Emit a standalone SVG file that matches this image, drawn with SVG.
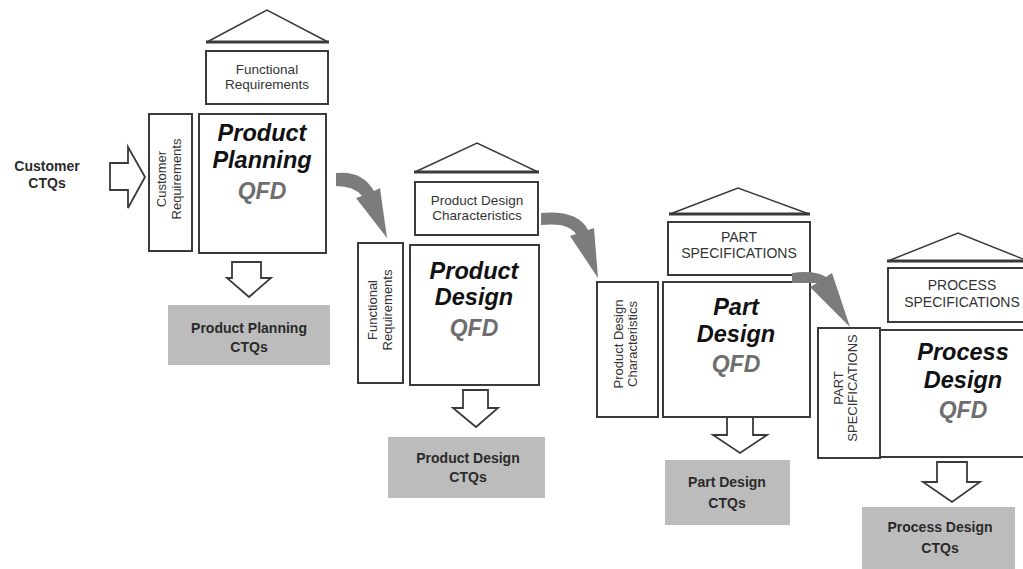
<svg xmlns="http://www.w3.org/2000/svg" width="1023" height="569" viewBox="0 0 1023 569">
<style>
.box{fill:#fff;stroke:#3a3a3a;stroke-width:2}
.roof{fill:#fff;stroke:#3a3a3a;stroke-width:1.5}
.base{stroke:#3a3a3a;stroke-width:3}
.ctq{fill:#bcbcbc;stroke:none}
.hollow{fill:#fff;stroke:#3a3a3a;stroke-width:1.8;stroke-linejoin:miter}
.curve{fill:#7c7c7c;stroke:none}
.big{font-family:"Liberation Sans",Arial,sans-serif;font-weight:bold;font-style:italic;font-size:23.5px;fill:#111;text-anchor:middle}
.qfd{font-family:"Liberation Sans",Arial,sans-serif;font-weight:bold;font-style:italic;font-size:23px;fill:#6e6e6e;text-anchor:middle}
.lbl{font-family:"Liberation Sans",Arial,sans-serif;font-size:13.5px;fill:#333;text-anchor:middle}
.cap{font-family:"Liberation Sans",Arial,sans-serif;font-size:14px;fill:#333;text-anchor:middle}
.side{font-family:"Liberation Sans",Arial,sans-serif;font-size:13px;fill:#333;text-anchor:middle}
.bold{font-family:"Liberation Sans",Arial,sans-serif;font-weight:bold;font-size:14px;fill:#2a2a2a;text-anchor:middle}
</style>
<rect width="1023" height="569" fill="#fff"/>

<g id="customer-ctqs">
<text class="bold" x="47" y="171">Customer</text>
<text class="bold" x="47" y="188">CTQs</text>
</g>

<g id="product-planning">
<polygon class="roof" points="207,42 267,10 328,42"/>
<line class="base" x1="206" y1="42" x2="329" y2="42"/>
<rect class="box" x="206" y="51" width="122" height="53"/>
<text class="lbl" x="267" y="74">Functional</text>
<text class="lbl" x="267" y="89">Requirements</text>
<rect class="box" x="149" y="114" width="43" height="137"/>
<g transform="translate(0,179) rotate(-90)">
<text class="side" x="0" y="166">Customer</text>
<text class="side" x="0" y="181">Requirements</text>
</g>
<rect class="box" x="199" y="114" width="127" height="139"/>
<text class="big" x="262" y="141">Product</text>
<text class="big" x="262" y="168">Planning</text>
<text class="qfd" x="262" y="199">QFD</text>
</g>

<g id="product-planning-ctqs">
<rect class="ctq" x="168" y="305" width="162" height="60"/>
<text class="bold" x="249" y="333">Product Planning</text>
<text class="bold" x="249" y="352">CTQs</text>
</g>

<g id="product-design">
<polygon class="roof" points="415,172 477,143 538,172"/>
<line class="base" x1="414" y1="172" x2="539" y2="172"/>
<rect class="box" x="415" y="182" width="123" height="53"/>
<text class="lbl" x="477" y="205">Product Design</text>
<text class="lbl" x="477" y="220">Characteristics</text>
<rect class="box" x="358" y="243" width="45" height="140"/>
<g transform="translate(0,310) rotate(-90)">
<text class="side" x="0" y="377">Functional</text>
<text class="side" x="0" y="392">Requirements</text>
</g>
<rect class="box" x="410" y="245" width="129" height="140"/>
<text class="big" x="474" y="279">Product</text>
<text class="big" x="474" y="305">Design</text>
<text class="qfd" x="474" y="336">QFD</text>
</g>

<g id="product-design-ctqs">
<rect class="ctq" x="388" y="437" width="157" height="61"/>
<text class="bold" x="468" y="463">Product Design</text>
<text class="bold" x="468" y="482">CTQs</text>
</g>

<g id="part-design">
<polygon class="roof" points="670,214 738,188 809,214"/>
<line class="base" x1="669" y1="214" x2="810" y2="214"/>
<rect class="box" x="668" y="222" width="142" height="53"/>
<text class="cap" x="739" y="242">PART</text>
<text class="cap" x="739" y="258">SPECIFICATIONS</text>
<rect class="box" x="597" y="282" width="61" height="135"/>
<g transform="translate(0,344) rotate(-90)">
<text class="side" x="0" y="623">Product Design</text>
<text class="side" x="0" y="637">Characteristics</text>
</g>
<rect class="box" x="663" y="282" width="147" height="135"/>
<text class="big" x="736" y="315">Part</text>
<text class="big" x="736" y="342">Design</text>
<text class="qfd" x="736" y="372">QFD</text>
</g>

<g id="part-design-ctqs">
<rect class="ctq" x="665" y="460" width="125" height="65"/>
<text class="bold" x="727" y="487">Part Design</text>
<text class="bold" x="727" y="508">CTQs</text>
</g>

<g id="process-design">
<polygon class="roof" points="888,261 958,233 1028,261"/>
<line class="base" x1="887" y1="261" x2="1030" y2="261"/>
<rect class="box" x="888" y="268" width="145" height="54"/>
<text class="cap" x="962" y="290">PROCESS</text>
<text class="cap" x="962" y="307">SPECIFICATIONS</text>
<rect class="box" x="818" y="328" width="62" height="130"/>
<g transform="translate(0,388) rotate(-90)">
<text class="side" x="0" y="843">PART</text>
<text class="side" x="0" y="857">SPECIFICATIONS</text>
</g>
<rect class="box" x="880" y="330" width="160" height="127"/>
<text class="big" x="963" y="360">Process</text>
<text class="big" x="963" y="388">Design</text>
<text class="qfd" x="963" y="418">QFD</text>
</g>

<g id="process-design-ctqs">
<rect class="ctq" x="862" y="507" width="153" height="62"/>
<text class="bold" x="940" y="532">Process Design</text>
<text class="bold" x="940" y="553">CTQs</text>
</g>

<g id="connectors">
<polygon class="hollow" points="110,163 128,163 128,147 145,177 128,208 128,190 110,190"/>
<polygon class="hollow" points="232,262 261,262 261,278 271,278 249,297 227,278 232,278"/>
<polygon class="hollow" points="463,390 488,390 488,408 498,408 476,427 453,408 463,408"/>
<polygon class="hollow" points="727,417 753,417 753,435 767,435 740,453 713,435 727,435"/>
<polygon class="hollow" points="937,462 967,462 967,482 980,482 952,502 923,482 937,482"/>
<path class="curve" d="M336 173 Q362 170 374 191 L380 188 L387 238 L356 198 L362 196 Q354 186 336 186 Z"/>
<path class="curve" d="M541 213 Q578 210 588 230 L594 228 L598 278 L570 236 L576 234 Q568 222 541 225 Z"/>
<path class="curve" d="M792 273 Q815 270 826 277 L832 273 L850 327 L810 287 L817 283 Q805 283 792 283 Z"/>
</g>
</svg>
